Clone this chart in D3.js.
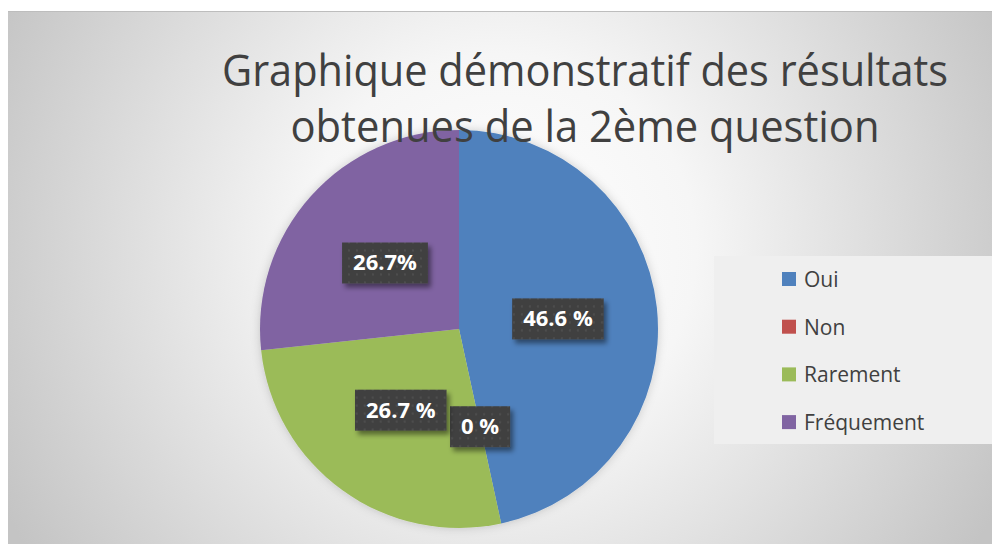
<!DOCTYPE html>
<html>
<head>
<meta charset="utf-8">
<script src="https://cdn.jsdelivr.net/npm/d3@7"></script>
<style>
  html, body { margin: 0; padding: 0; background: #ffffff; }
  svg { display: block; }
</style>
</head>
<body>
<div id="chart"></div>
<script>
// data
const categories = ["Oui", "Non", "Rarement", "Fréquement"];
const values = [46.6, 0, 26.7, 26.7];
const labels = ["46.6 %", "0 %", "26.7 %", "26.7%"];
const colors = ["#4F81BD", "#C0504D", "#9BBB59", "#8064A2"];
const titleLines = ["Graphique démonstratif des résultats", "obtenues de la 2ème question"];

const width = 992, height = 544;
const center = { x: 459, y: 329 };
const radius = 199;

const svg = d3.select("#chart")
              .append("svg")
              .attr("width", width)
              .attr("height", height);

const defs = svg.append("defs");

// background gradient of the chart area
const bg = defs.append("radialGradient")
               .attr("id", "bg")
               .attr("gradientUnits", "userSpaceOnUse")
               .attr("cx", 500).attr("cy", 250).attr("r", 560);
bg.append("stop").attr("offset", "0%").attr("stop-color", "#ffffff");
bg.append("stop").attr("offset", "35%").attr("stop-color", "#f6f6f6");
bg.append("stop").attr("offset", "100%").attr("stop-color", "#c4c4c4");

// dotted fill for the label boxes
const pat = defs.append("pattern")
                .attr("id", "dots")
                .attr("patternUnits", "userSpaceOnUse")
                .attr("width", 8).attr("height", 8);
pat.append("rect").attr("width", 8).attr("height", 8).attr("fill", "#404040");
pat.append("circle").attr("cx", 4).attr("cy", 4).attr("r", 1.2).attr("fill", "#4d4d4d");

defs.append("filter")
    .attr("id", "pieShadow")
    .attr("x", "-20%").attr("y", "-20%").attr("width", "140%").attr("height", "140%")
    .append("feDropShadow")
    .attr("dx", 0).attr("dy", 0).attr("stdDeviation", 5)
    .attr("flood-color", "#000").attr("flood-opacity", 0.18);

defs.append("filter")
    .attr("id", "boxShadow")
    .attr("x", "-30%").attr("y", "-30%").attr("width", "160%").attr("height", "160%")
    .append("feDropShadow")
    .attr("dx", 3).attr("dy", 4).attr("stdDeviation", 2.5)
    .attr("flood-color", "#000").attr("flood-opacity", 0.45);

// chart area
svg.append("rect")
   .attr("x", 8).attr("y", 11)
   .attr("width", width - 8).attr("height", height - 11)
   .attr("fill", "url(#bg)");
svg.append("line")
   .attr("x1", 8).attr("x2", width)
   .attr("y1", 11.5).attr("y2", 11.5)
   .attr("stroke", "#bdbdbd");

// pie
const pie = d3.pie().sort(null).value(d => d);
const arcs = pie(values);
const arc = d3.arc().innerRadius(0).outerRadius(radius);

const g = svg.append("g")
             .attr("transform", "translate(" + center.x + "," + center.y + ")");

g.append("g")
 .attr("filter", "url(#pieShadow)")
 .selectAll("path")
 .data(arcs)
 .join("path")
 .attr("d", arc)
 .attr("fill", (d, i) => colors[i]);

// title (drawn over the pie like the original)
const titleY = [86, 142];
const titleLen = [726, 589];
svg.append("g")
   .selectAll("text")
   .data(titleLines)
   .join("text")
   .attr("x", 585)
   .attr("y", (d, i) => titleY[i])
   .attr("text-anchor", "middle")
   .attr("textLength", (d, i) => titleLen[i])
   .attr("lengthAdjust", "spacingAndGlyphs")
   .style("font-family", "'Open Sans', sans-serif")
   .style("font-size", "44px")
   .style("fill", "#404040")
   .text(d => d);

// data labels at the arc centroids
const lab = g.append("g")
             .selectAll("g")
             .data(arcs)
             .join("g")
             .attr("transform", d => "translate(" + arc.centroid(d) + ")");

lab.append("rect").attr("class", "box");
lab.append("text")
   .attr("text-anchor", "middle")
   .attr("dy", "0.36em")
   .style("font-family", "'Open Sans', sans-serif")
   .style("font-weight", "bold")
   .style("font-size", "22px")
   .style("fill", "#ffffff")
   .text((d, i) => labels[i]);

lab.each(function() {
  const node = d3.select(this);
  const w = node.select("text").node().getComputedTextLength() + 22;
  node.select("rect")
      .attr("x", -w / 2).attr("y", -20)
      .attr("width", w).attr("height", 41)
      .attr("fill", "url(#dots)")
      .attr("filter", "url(#boxShadow)");
});

// legend
const legend = svg.append("g").attr("transform", "translate(714,256)");
legend.append("rect")
      .attr("width", width - 714).attr("height", 188)
      .attr("fill", "#efefef");

const item = legend.selectAll("g.item")
                   .data(categories)
                   .join("g")
                   .attr("class", "item")
                   .attr("transform", (d, i) => "translate(68," + (23 + i * 47.7) + ")");
item.append("rect")
    .attr("x", 0).attr("y", -7)
    .attr("width", 14).attr("height", 14)
    .attr("fill", (d, i) => colors[i]);
item.append("text")
    .attr("x", 22)
    .attr("y", 8)
    .style("font-family", "'Open Sans', sans-serif")
    .style("font-size", "21px")
    .style("fill", "#404040")
    .text(d => d);
</script>
</body>
</html>
